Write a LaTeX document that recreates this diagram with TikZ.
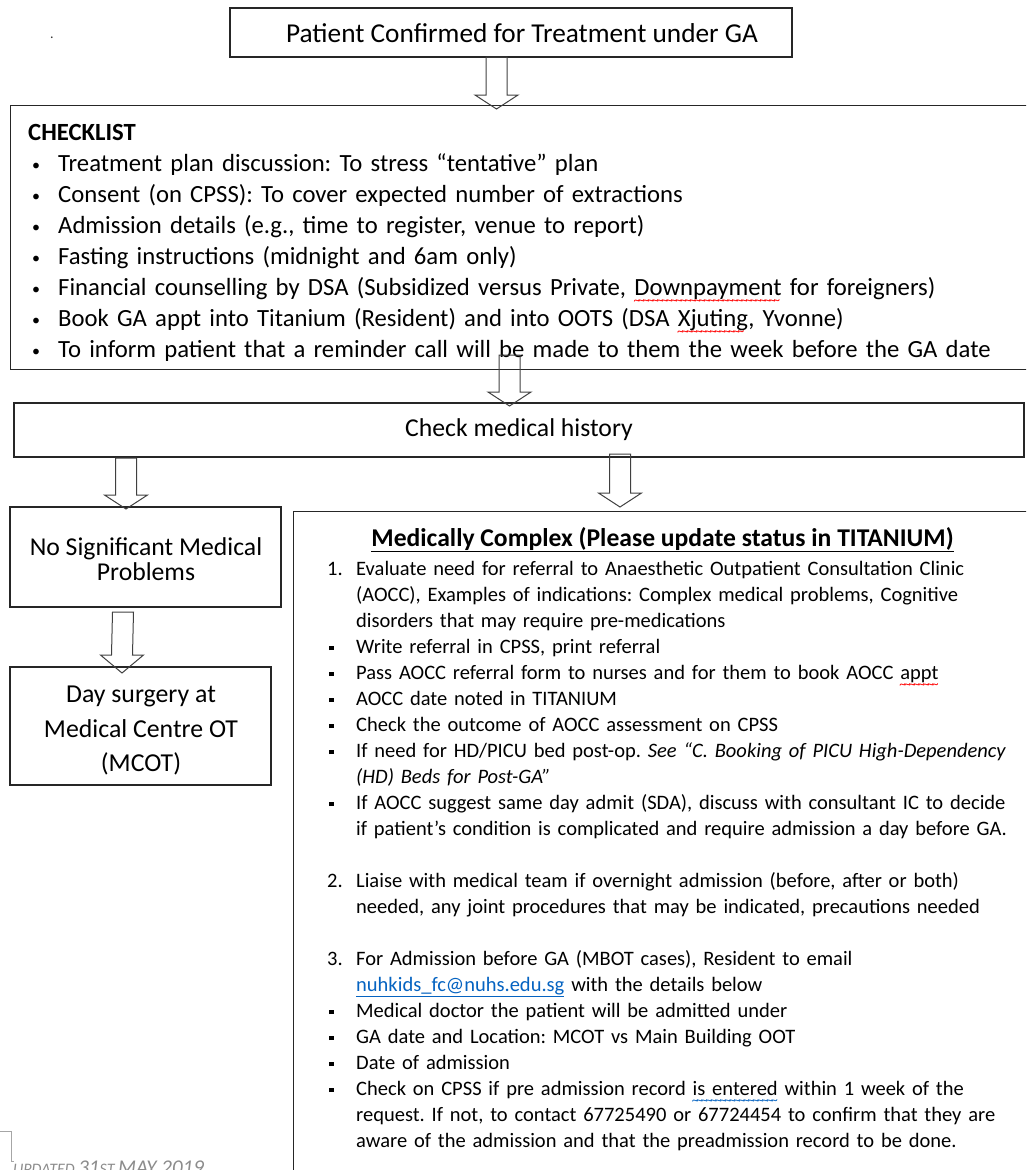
\documentclass[tikz,border=0pt]{standalone}
\usepackage{fontspec}
\setmainfont{Carlito}
\usepackage{tikz}
\usetikzlibrary{arrows, positioning, calc}

\definecolor{linkblue}{RGB}{5,99,193}

\newcommand{\chkfont}{\fontsize{24.7}{31}\selectfont\frenchspacing}
\newcommand{\mcfont}{\fontsize{20.5}{26}\selectfont\frenchspacing}
\newcommand{\sqbul}{\rule[3pt]{4.5pt}{4.5pt}}
\newcommand{\chkbul}{\makebox[30pt][l]{\hspace{4pt}\raisebox{0.5pt}{\fontsize{16}{16}\selectfont\textbullet}}}
\newcommand{\mcitem}[2]{\hangindent=29pt\hangafter=1\noindent\makebox[29pt][l]{#1}#2\par}
% spell-check squiggle under a word
\newcommand{\squig}[2]{\setbox0\hbox{#2}\rlap{\raisebox{-9pt}{\hbox to \wd0{\color{#1}\fontsize{13}{13}\selectfont\leaders\hbox{\kern-0.9pt\char"7E\kern-0.9pt}\hfill}}}#2}

% hollow block arrow: #2 = top of shaft, #3 = tip, #1 = head length
\newcommand{\fatarrow}[3][14]{%
  \draw[fatline] ($(#2)+(-10.5,0)$) -- ($(#3)+(-10.5,-#1)$) -- ($(#3)+(-21.5,-#1)$) -- (#3)
    -- ($(#3)+(21.5,-#1)$) -- ($(#3)+(10.5,-#1)$) -- ($(#2)+(10.5,0)$) -- cycle;}

\begin{document}
\begin{tikzpicture}[x=1pt, y=-1pt,
  box/.style={draw=black!85, line width=1.3pt, inner sep=0pt},
  fatline/.style={draw=black!75, line width=1pt},
  ]
\useasboundingbox (0,0) rectangle (1026,1170);
\clip (0,0) rectangle (1026,1170);

% nodes
\node[text=black!80, font=\fontsize{14}{14}\selectfont] (dot) at (52,38) {.};
\node[box, minimum width=562, minimum height=49] (confirm) at (511,32.5) {};
\node[font=\fontsize{27.3}{33}\selectfont] (confirmtext) at (522,33) {Patient Confirmed for Treatment under GA};

\node[box, anchor=north west, minimum width=1040, minimum height=264] (checklist) at (10,105) {};
\node[anchor=base west, text width=1000, inner sep=0pt, font=\chkfont] (checkitems) at (28,140) {\textbf{CHECKLIST}\\
\chkbul Treatment plan discussion: To stress “tentative” plan\\
\chkbul Consent (on CPSS): To cover expected number of extractions\\
\chkbul Admission details (e.g., time to register, venue to report)\\
\chkbul Fasting instructions (midnight and 6am only)\\
\chkbul Financial counselling by DSA (Subsidized versus Private, \squig{red}{Downpayment} for foreigners)\\
\chkbul Book GA appt into Titanium (Resident) and into OOTS (DSA \squig{red}{Xjuting}, Yvonne)\\
\chkbul To inform patient that a reminder call will be made to them the week before the GA date};

\node[box, minimum width=1010, minimum height=54, font=\fontsize{25.7}{31}\selectfont] (history) at (519,430) {Check medical history};

\node[box, minimum width=271, minimum height=100] (nosig) at (145.5,557) {};
\node[align=center, font=\fontsize{25.7}{25}\selectfont] (nosigtext) at (146,559) {No Significant Medical\\Problems};
\node[box, minimum width=261, minimum height=118] (day) at (140.5,726) {};
\node[align=center, font=\fontsize{25.8}{34.5}\selectfont] (daytext) at (141,731) {Day surgery at\\Medical Centre OT\\(MCOT)};

\node[box, anchor=north west, minimum width=760, minimum height=700] (complex) at (293,511) {};
\node[anchor=base, inner sep=0pt, font=\fontsize{25.6}{30}\selectfont\bfseries] (mctitle) at (662.5,546) {\underline{Medically Complex (Please update status in TITANIUM)}};
\node[anchor=base west, text width=720, inner sep=0pt, font=\mcfont] (mcitems) at (327,575) {%
\mcitem{1.}{Evaluate need for referral to Anaesthetic Outpatient Consultation Clinic\newline (AOCC), Examples of indications: Complex medical problems, Cognitive\newline disorders that may require pre-medications}
\mcitem{\hspace{2pt}\sqbul}{Write referral in CPSS, print referral}
\mcitem{\hspace{2pt}\sqbul}{Pass AOCC referral form to nurses and for them to book AOCC \squig{red}{appt}}
\mcitem{\hspace{2pt}\sqbul}{AOCC date noted in TITANIUM}
\mcitem{\hspace{2pt}\sqbul}{Check the outcome of AOCC assessment on CPSS}
\mcitem{\hspace{2pt}\sqbul}{If need for HD/PICU bed post-op. \textit{See “C. Booking of PICU High-Dependency\newline (HD) Beds for Post-GA”}}
\mcitem{\hspace{2pt}\sqbul}{If AOCC suggest same day admit (SDA), discuss with consultant IC to decide\newline if patient’s condition is complicated and require admission a day before GA.}
\mbox{}\par
\mcitem{2.}{Liaise with medical team if overnight admission (before, after or both)\newline needed, any joint procedures that may be indicated, precautions needed}
\mbox{}\par
\mcitem{3.}{For Admission before GA (MBOT cases), Resident to email\newline \textcolor{linkblue}{\underline{nuhkids\_fc@nuhs.edu.sg}} with the details below}
\mcitem{\hspace{2pt}\sqbul}{Medical doctor the patient will be admitted under}
\mcitem{\hspace{2pt}\sqbul}{GA date and Location: MCOT vs Main Building OOT}
\mcitem{\hspace{2pt}\sqbul}{Date of admission}
\mcitem{\hspace{2pt}\sqbul}{Check on CPSS if pre admission record \squig{linkblue}{is entered} within 1 week of the\newline request. If not, to contact 67725490 or 67724454 to confirm that they are\newline aware of the admission and that the preadmission record to be done.}
};

\node[anchor=base west, inner sep=0pt, text=black!45, font=\fontsize{21}{21}\selectfont\itshape] (updated) at (13,1174) {{\fontsize{16}{16}\selectfont UPDATED }31{\fontsize{16}{16}\selectfont ST }MAY 2019};
\draw[black!35, line width=0.8pt] (0,1131) -- (11,1131) -- (11,1161) -- (14,1161);

% arrows
\coordinate (a1s) at (496.5,57);
\coordinate (a1e) at (496.5,109);
\coordinate (a2s) at (509.5,355);
\coordinate (a2e) at (509.5,406);
\coordinate (a3s) at (126,458);
\coordinate (a3e) at (126,509);
\coordinate (a4s) at (620,454);
\coordinate (a4e) at (620,507);
\coordinate (a5s) at (123,612);
\coordinate (a5e) at (122,673);

\fatarrow{a1s}{a1e}
\fatarrow{a2s}{a2e}
\fatarrow{a3s}{a3e}
\fatarrow{a4s}{a4e}
\fatarrow[18]{a5s}{a5e}

\end{tikzpicture}
\end{document}
